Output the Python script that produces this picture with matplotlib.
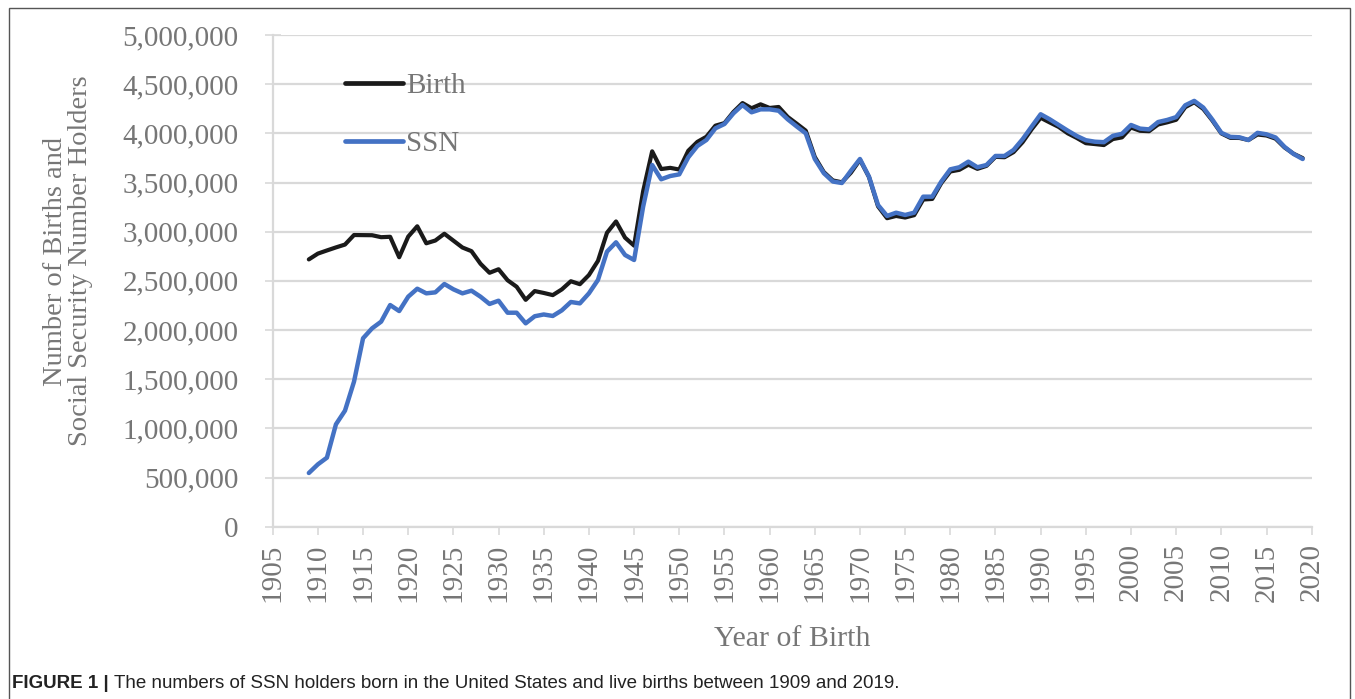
import matplotlib
matplotlib.use("Agg")
import matplotlib.pyplot as plt
from matplotlib.ticker import FuncFormatter, MultipleLocator
from matplotlib.patches import Rectangle

years = list(range(1909, 2020))

birth = [
    2718, 2777, 2809, 2840, 2869, 2966, 2965, 2964, 2944, 2948,   # 1909-1918
    2740, 2950, 3055, 2882, 2910, 2979, 2909, 2839, 2802, 2674,   # 1919-1928
    2582, 2618, 2506, 2440, 2307, 2396, 2377, 2355, 2413, 2496,   # 1929-1938
    2466, 2559, 2703, 2989, 3104, 2939, 2858, 3411, 3817, 3637,   # 1939-1948
    3649, 3632, 3823, 3913, 3965, 4078, 4104, 4218, 4308, 4255,   # 1949-1958
    4295, 4258, 4268, 4167, 4098, 4027, 3760, 3606, 3521, 3502,   # 1959-1968
    3600, 3731, 3556, 3258, 3137, 3160, 3144, 3168, 3327, 3333,   # 1969-1978
    3494, 3612, 3629, 3681, 3639, 3669, 3761, 3757, 3809, 3910,   # 1979-1988
    4041, 4158, 4111, 4065, 4000, 3953, 3900, 3891, 3881, 3942,   # 1989-1998
    3959, 4059, 4026, 4022, 4090, 4112, 4138, 4266, 4316, 4248,   # 1999-2008
    4131, 3999, 3954, 3953, 3932, 3988, 3978, 3946, 3856, 3792,   # 2009-2018
    3748,                                                         # 2019
]

ssn = [
    546, 634, 702, 1041, 1180, 1475, 1916, 2017, 2085, 2254,      # 1909-1918
    2193, 2339, 2420, 2373, 2383, 2468, 2414, 2373, 2400, 2339,   # 1919-1928
    2265, 2298, 2176, 2176, 2068, 2140, 2158, 2143, 2200, 2285,   # 1929-1938
    2271, 2373, 2509, 2797, 2892, 2763, 2712, 3254, 3678, 3533,   # 1939-1948
    3566, 3583, 3756, 3871, 3932, 4051, 4095, 4204, 4288, 4214,   # 1949-1958
    4244, 4244, 4230, 4143, 4070, 4000, 3740, 3595, 3510, 3495,   # 1959-1968
    3620, 3739, 3559, 3271, 3160, 3193, 3170, 3193, 3356, 3356,   # 1969-1978
    3509, 3634, 3655, 3712, 3655, 3678, 3770, 3770, 3831, 3940,   # 1979-1988
    4068, 4194, 4143, 4085, 4027, 3973, 3930, 3915, 3910, 3975,   # 1989-1998
    3995, 4085, 4048, 4040, 4115, 4136, 4165, 4285, 4330, 4262,   # 1999-2008
    4140, 4005, 3964, 3960, 3932, 4005, 3990, 3958, 3862, 3790,   # 2009-2018
    3739,                                                         # 2019
]

birth = [v * 1000 for v in birth]
ssn = [v * 1000 for v in ssn]

x_range = (1905, 2020)
y_range = (0, 5_000_000)

W, H = 1355, 699
fig = plt.figure(figsize=(W / 100, H / 100), dpi=100)

serif = ["Liberation Serif", "DejaVu Serif"]
gray_txt = "#767676"
grid_c = "#d9d9d9"

ax_l, ax_r, ax_t, ax_b = 272.7, 1311.7, 35, 526.7
ax = fig.add_axes([ax_l / W, 1 - ax_b / H, (ax_r - ax_l) / W, (ax_b - ax_t) / H])
ax.plot(years, birth, color="#1a1a1a", lw=3.0, label="Birth", solid_capstyle="round", zorder=3)
ax.plot(years, ssn, color="#4472c4", lw=3.2, label="SSN", solid_capstyle="round", zorder=4)

ax.set_xlim(*x_range)
ax.set_ylim(*y_range)
ax.xaxis.set_major_locator(MultipleLocator(5))
ax.yaxis.set_major_locator(MultipleLocator(500_000))
ax.yaxis.set_major_formatter(FuncFormatter(lambda v, p: f"{int(v):,}"))
ax.grid(axis="y", color=grid_c, lw=1.6, zorder=0)

for s in ["top", "right"]:
    ax.spines[s].set_visible(False)
for s in ["left", "bottom"]:
    ax.spines[s].set_color(grid_c)
    ax.spines[s].set_linewidth(1.6)

ax.tick_params(axis="y", direction="inout", length=11, width=1.2, color=grid_c,
               pad=19, labelsize=21, labelcolor=gray_txt)
ax.tick_params(axis="x", direction="out", length=6, width=1.2, color=grid_c,
               pad=6, labelsize=21, labelcolor=gray_txt, labelrotation=90)
for lab in ax.get_xticklabels() + ax.get_yticklabels():
    lab.set_fontfamily(serif)

leg = ax.legend(loc="upper left",
                bbox_to_anchor=((345 - ax_l) / (ax_r - ax_l), 1 - (73 - ax_t) / (ax_b - ax_t)),
                frameon=False, handlelength=2.0, handletextpad=0.1, labelspacing=1.08,
                prop={"family": serif, "size": 21}, borderaxespad=0, borderpad=0)
for t in leg.get_texts():
    t.set_color(gray_txt)
for h in leg.get_lines():
    h.set_linewidth(3.4)

fig.text(792 / W, 1 - 639 / H, "Year of Birth", ha="center", va="center",
         fontsize=21.5, family=serif, color=gray_txt)
fig.text(68 / W, 1 - 261 / H, "Number of Births and\nSocial Security Number Holders",
         ha="center", va="center", rotation=90, fontsize=20.5, family=serif,
         color=gray_txt, linespacing=1.05)

fig.patches.append(Rectangle((9 / W, -0.05), (1350 - 9) / W, 1 - 8 / H + 0.05,
                             transform=fig.transFigure, fill=False,
                             edgecolor="#555555", lw=1.0))

sans = ["Liberation Sans", "DejaVu Sans"]
cap_y = 1 - 683 / H
t1 = fig.text(12 / W, cap_y, "FIGURE 1 | ", ha="left", va="center",
              fontsize=13.5, family=sans, weight="bold", color="#222222")
fig.canvas.draw()
bb = t1.get_window_extent()
fig.text(bb.x1 / W, cap_y, "The numbers of SSN holders born in the United States and live births between 1909 and 2019.",
         ha="left", va="center", fontsize=13.5, family=sans, color="#222222")

fig.savefig("out.png", dpi=100)
